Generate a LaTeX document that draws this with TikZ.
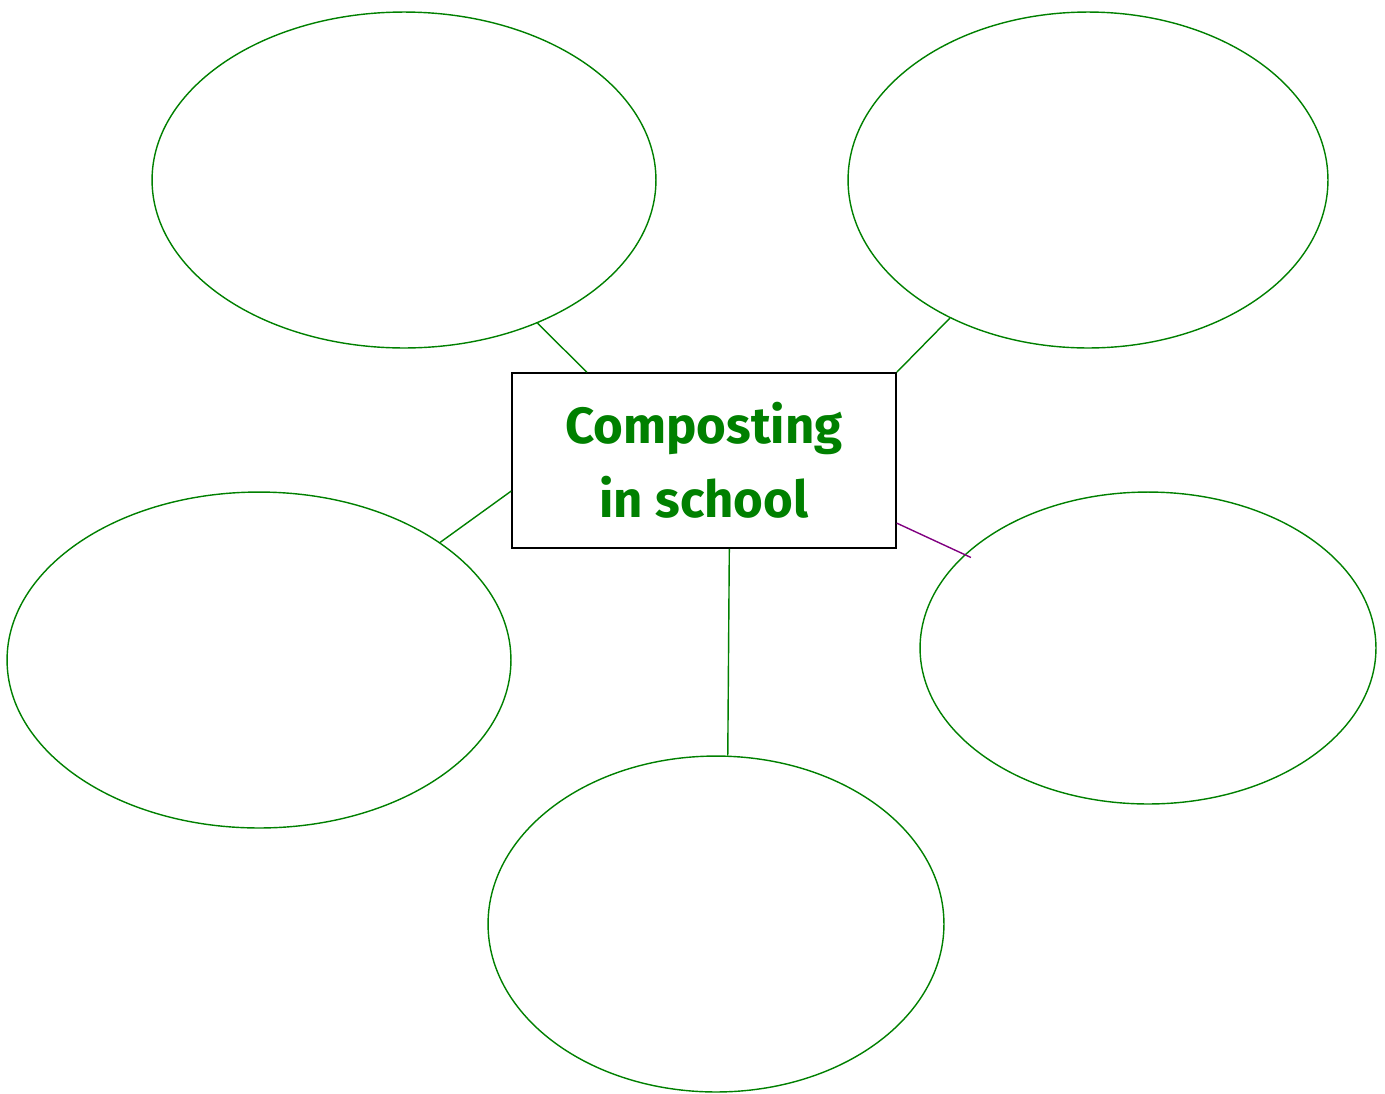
\documentclass[tikz,border=0pt]{standalone}
\usepackage{fontspec}
\newfontfamily\titlefont{Fira Sans}
\usetikzlibrary{shapes.geometric}
\definecolor{leafgreen}{RGB}{0,128,0}
\definecolor{linkpurple}{RGB}{128,0,128}
\begin{document}
\begin{tikzpicture}[x=0.02cm,y=-0.02cm]

    % Define node styles
    \tikzstyle{topic_block} = [draw, line width=0.9pt, minimum width=7.68cm, minimum height=3.5cm, text=leafgreen, align=center, font=\titlefont\bfseries\fontsize{29}{42}\selectfont]
    \tikzstyle{bubble} = [draw=leafgreen, ellipse, line width=0.8pt, inner sep=0pt]
    \tikzstyle{link} = [leafgreen, line width=0.8pt]

    \useasboundingbox (0,0) rectangle (1385,1093);

    % Draw nodes
    \node [topic_block] (topic) at (704,460.5) {Composting\\in school};
    \node [bubble, minimum width=10.08cm, minimum height=6.72cm] (top_left) at (404,180) {};
    \node [bubble, minimum width=9.6cm, minimum height=6.72cm] (top_right) at (1088,180) {};
    \node [bubble, minimum width=10.08cm, minimum height=6.72cm] (mid_left) at (259,660) {};
    \node [bubble, minimum width=9.12cm, minimum height=6.24cm] (mid_right) at (1148,648) {};
    \node [bubble, minimum width=9.12cm, minimum height=6.72cm] (bottom) at (716,924) {};

    % Draw links
    \draw [link] (top_left.-47.5) -- (topic.143.8);
    \draw [link] (top_right.-135) -- (topic.north east);
    \draw [link] (mid_left.33.6) -- (topic.189.3);
    \draw [link] (bottom.86) -- (topic.-74.7);
    \draw [linkpurple, line width=0.8pt, shorten >=-4pt] (topic.-18.3) -- (mid_right.153.7);

\end{tikzpicture}
\end{document}
